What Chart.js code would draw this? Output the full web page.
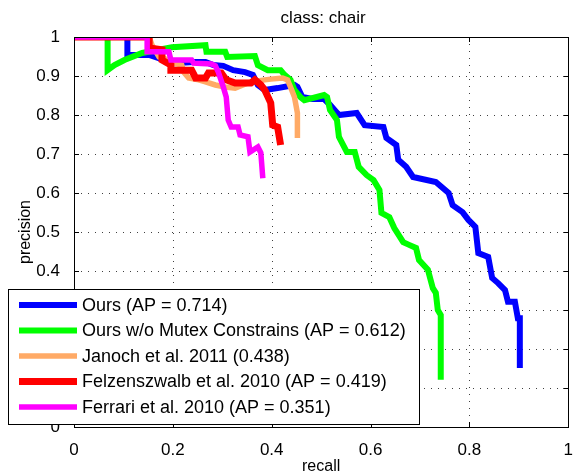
<!DOCTYPE html>
<html>
<head>
<meta charset="utf-8">
<script src="https://cdn.jsdelivr.net/npm/chart.js@4"></script>
<style>
  body { margin: 0; background: #fff; }
  #wrap { width: 578px; height: 474px; }
</style>
</head>
<body>
<div id="wrap"><canvas id="prChart" width="578" height="474"></canvas></div>
<script>
// precision / recall values
const oursRecall = [0, 0.108, 0.108, 0.152, 0.182, 0.202, 0.242, 0.266, 0.282, 0.302, 0.322, 0.346, 0.362, 0.372, 0.386, 0.412, 0.446, 0.452, 0.462, 0.482, 0.506, 0.518, 0.536, 0.572, 0.588, 0.626, 0.632, 0.652, 0.656, 0.672, 0.686, 0.732, 0.758, 0.766, 0.786, 0.798, 0.812, 0.818, 0.838, 0.846, 0.858, 0.872, 0.878, 0.892, 0.898, 0.902, 0.902];
const oursPrecision = [1, 1, 0.954, 0.954, 0.941, 0.933, 0.936, 0.936, 0.928, 0.926, 0.915, 0.910, 0.903, 0.877, 0.864, 0.869, 0.877, 0.872, 0.846, 0.841, 0.841, 0.826, 0.800, 0.805, 0.774, 0.769, 0.741, 0.723, 0.685, 0.667, 0.641, 0.628, 0.600, 0.569, 0.551, 0.531, 0.513, 0.446, 0.436, 0.382, 0.369, 0.351, 0.321, 0.321, 0.279, 0.279, 0.151];

const noMutexRecall = [0, 0.068, 0.068, 0.082, 0.102, 0.138, 0.198, 0.266, 0.268, 0.306, 0.310, 0.366, 0.372, 0.392, 0.418, 0.426, 0.438, 0.446, 0.458, 0.466, 0.506, 0.512, 0.518, 0.532, 0.536, 0.552, 0.568, 0.576, 0.592, 0.606, 0.618, 0.622, 0.638, 0.648, 0.666, 0.678, 0.692, 0.698, 0.716, 0.726, 0.732, 0.736, 0.742, 0.742];
const noMutexPrecision = [1, 1, 0.915, 0.928, 0.941, 0.959, 0.974, 0.979, 0.962, 0.962, 0.949, 0.951, 0.928, 0.915, 0.915, 0.903, 0.890, 0.864, 0.846, 0.838, 0.851, 0.846, 0.813, 0.787, 0.744, 0.705, 0.705, 0.667, 0.646, 0.633, 0.608, 0.549, 0.538, 0.510, 0.474, 0.467, 0.459, 0.428, 0.403, 0.356, 0.344, 0.300, 0.287, 0.121];

const janochRecall = [0, 0.152, 0.158, 0.172, 0.192, 0.202, 0.218, 0.222, 0.232, 0.252, 0.266, 0.286, 0.306, 0.326, 0.342, 0.358, 0.386, 0.398, 0.422, 0.432, 0.438, 0.446, 0.452, 0.452];
const janochPrecision = [1, 1, 0.979, 0.949, 0.941, 0.933, 0.928, 0.910, 0.895, 0.890, 0.885, 0.877, 0.872, 0.869, 0.877, 0.885, 0.890, 0.892, 0.895, 0.890, 0.872, 0.846, 0.805, 0.741];

const felzRecall = [0, 0.152, 0.152, 0.178, 0.178, 0.196, 0.196, 0.238, 0.246, 0.266, 0.272, 0.298, 0.308, 0.326, 0.358, 0.366, 0.378, 0.386, 0.398, 0.402, 0.412, 0.418];
const felzPrecision = [1, 1, 0.972, 0.967, 0.941, 0.928, 0.915, 0.915, 0.895, 0.895, 0.908, 0.908, 0.890, 0.882, 0.882, 0.890, 0.877, 0.864, 0.831, 0.774, 0.769, 0.723];

const ferrariRecall = [0, 0.148, 0.148, 0.192, 0.196, 0.238, 0.242, 0.278, 0.286, 0.292, 0.302, 0.308, 0.312, 0.318, 0.332, 0.336, 0.352, 0.356, 0.372, 0.378, 0.382];
const ferrariPrecision = [1, 1, 0.962, 0.962, 0.941, 0.941, 0.933, 0.931, 0.926, 0.910, 0.872, 0.846, 0.787, 0.769, 0.769, 0.749, 0.744, 0.705, 0.718, 0.703, 0.638];

const seriesLabels = [
    "Ours (AP = 0.714)",
    "Ours w/o Mutex Constrains (AP = 0.612)",
    "Janoch et al. 2011 (0.438)",
    "Felzenszwalb et al. 2010 (AP = 0.419)",
    "Ferrari et al. 2010 (AP = 0.351)"
];
const xTicks = [0, 0.2, 0.4, 0.6, 0.8, 1];
const yTicks = [0, 0.1, 0.2, 0.3, 0.4, 0.5, 0.6, 0.7, 0.8, 0.9, 1];

const FONT = "'Liberation Sans', Arial, Helvetica, sans-serif";

function toPoints(rs, ps) {
    return rs.map((r, i) => ({ x: r, y: ps[i] }));
}

function makeSet(label, rs, ps, color, width, order) {
    return {
        label: label,
        data: toPoints(rs, ps),
        borderColor: color,
        backgroundColor: color,
        borderWidth: width,
        pointRadius: 0,
        showLine: true,
        tension: 0,
        borderJoinStyle: "miter",
        order: order
    };
}

function fmtTick(v) {
    return String(Math.round(v * 10) / 10);
}

// dotted grid under the curves
const dottedGrid = {
    id: "dottedGrid",
    beforeDatasetsDraw(chart) {
        const ctx = chart.ctx;
        const a = chart.chartArea;
        const xs = chart.scales.x, ys = chart.scales.y;
        ctx.save();
        ctx.strokeStyle = "rgba(0,0,0,0.75)";
        ctx.lineWidth = 1;
        ctx.setLineDash([1, 6]);
        ctx.beginPath();
        xTicks.slice(1, -1).forEach(v => {
            const px = Math.round(xs.getPixelForValue(v)) + 0.5;
            ctx.moveTo(px, a.top); ctx.lineTo(px, a.bottom);
        });
        yTicks.slice(1, -1).forEach(v => {
            const py = Math.round(ys.getPixelForValue(v)) + 0.5;
            ctx.moveTo(a.left, py); ctx.lineTo(a.right, py);
        });
        ctx.stroke();
        ctx.restore();
    }
};

// box, inner tick marks, title and legend in the matlab style
const matlabFrame = {
    id: "matlabFrame",
    afterDraw(chart) {
        const ctx = chart.ctx;
        const a = chart.chartArea;
        const xs = chart.scales.x, ys = chart.scales.y;
        ctx.save();
        ctx.strokeStyle = "#000";
        ctx.lineWidth = 1;
        ctx.beginPath();
        xTicks.forEach(v => {
            const px = Math.round(xs.getPixelForValue(v)) + 0.5;
            ctx.moveTo(px, a.bottom); ctx.lineTo(px, a.bottom - 5);
            ctx.moveTo(px, a.top); ctx.lineTo(px, a.top + 5);
        });
        yTicks.forEach(v => {
            const py = Math.round(ys.getPixelForValue(v)) + 0.5;
            ctx.moveTo(a.left, py); ctx.lineTo(a.left + 5, py);
            ctx.moveTo(a.right, py); ctx.lineTo(a.right - 5, py);
        });
        ctx.stroke();
        ctx.strokeRect(Math.round(a.left) + 0.5, Math.round(a.top) + 0.5, Math.round(a.right - a.left), Math.round(a.bottom - a.top));

        ctx.fillStyle = "#000";
        ctx.font = "17px " + FONT;
        ctx.textAlign = "center";
        ctx.textBaseline = "alphabetic";
        ctx.fillText("class: chair", (a.left + a.right) / 2 + 2, 23);

        // legend
        const lx = 8, ly = 289, lw = 411, lh = 135;
        ctx.fillStyle = "#fff";
        ctx.fillRect(lx, ly, lw, lh);
        ctx.strokeRect(lx + 0.5, ly + 0.5, lw, lh);
        ctx.font = "18px " + FONT;
        ctx.textAlign = "left";
        ctx.textBaseline = "middle";
        chart.data.datasets.forEach((ds, i) => {
            const cy = 305 + i * 25.5;
            ctx.strokeStyle = ds.borderColor;
            ctx.lineWidth = ds.borderWidth;
            ctx.beginPath();
            ctx.moveTo(19, cy); ctx.lineTo(77, cy);
            ctx.stroke();
            ctx.fillStyle = "#000";
            ctx.fillText(ds.label, 82, cy + 1);
        });
        ctx.restore();
    }
};

new Chart(document.getElementById("prChart"), {
    type: "scatter",
    data: {
        datasets: [
            makeSet(seriesLabels[0], oursRecall, oursPrecision, "#0000ff", 6, 5),
            makeSet(seriesLabels[1], noMutexRecall, noMutexPrecision, "#00ff00", 6, 4),
            makeSet(seriesLabels[2], janochRecall, janochPrecision, "#ffaa66", 5.5, 3),
            makeSet(seriesLabels[3], felzRecall, felzPrecision, "#ff0000", 7, 2),
            makeSet(seriesLabels[4], ferrariRecall, ferrariPrecision, "#ff00ff", 5.5, 1)
        ]
    },
    options: {
        responsive: false,
        animation: false,
        layout: { padding: { top: 37, right: 4, left: 0, bottom: 0 } },
        plugins: {
            legend: { display: false },
            tooltip: { enabled: false },
            title: { display: false }
        },
        scales: {
            x: {
                type: "linear",
                min: 0,
                max: 1,
                afterFit: s => { s.height = 47; },
                afterBuildTicks: s => { s.ticks = xTicks.map(v => ({ value: v })); },
                ticks: { color: "#000", font: { size: 17, family: FONT }, padding: 5, maxRotation: 0, callback: fmtTick },
                grid: { display: false },
                border: { display: false },
                title: { display: true, text: "recall", color: "#000", font: { size: 16, family: FONT }, padding: { bottom: -2, top: 0 } }
            },
            y: {
                type: "linear",
                min: 0,
                max: 1,
                afterFit: s => { s.width = 74; },
                afterBuildTicks: s => { s.ticks = yTicks.map(v => ({ value: v })); },
                ticks: { color: "#000", font: { size: 17, family: FONT }, padding: 6, callback: fmtTick },
                grid: { display: false },
                border: { display: false },
                title: { display: true, text: "precision", color: "#000", font: { size: 16, family: FONT }, padding: { top: 16, bottom: 0 } }
            }
        }
    },
    plugins: [dottedGrid, matlabFrame]
});
</script>
</body>
</html>
